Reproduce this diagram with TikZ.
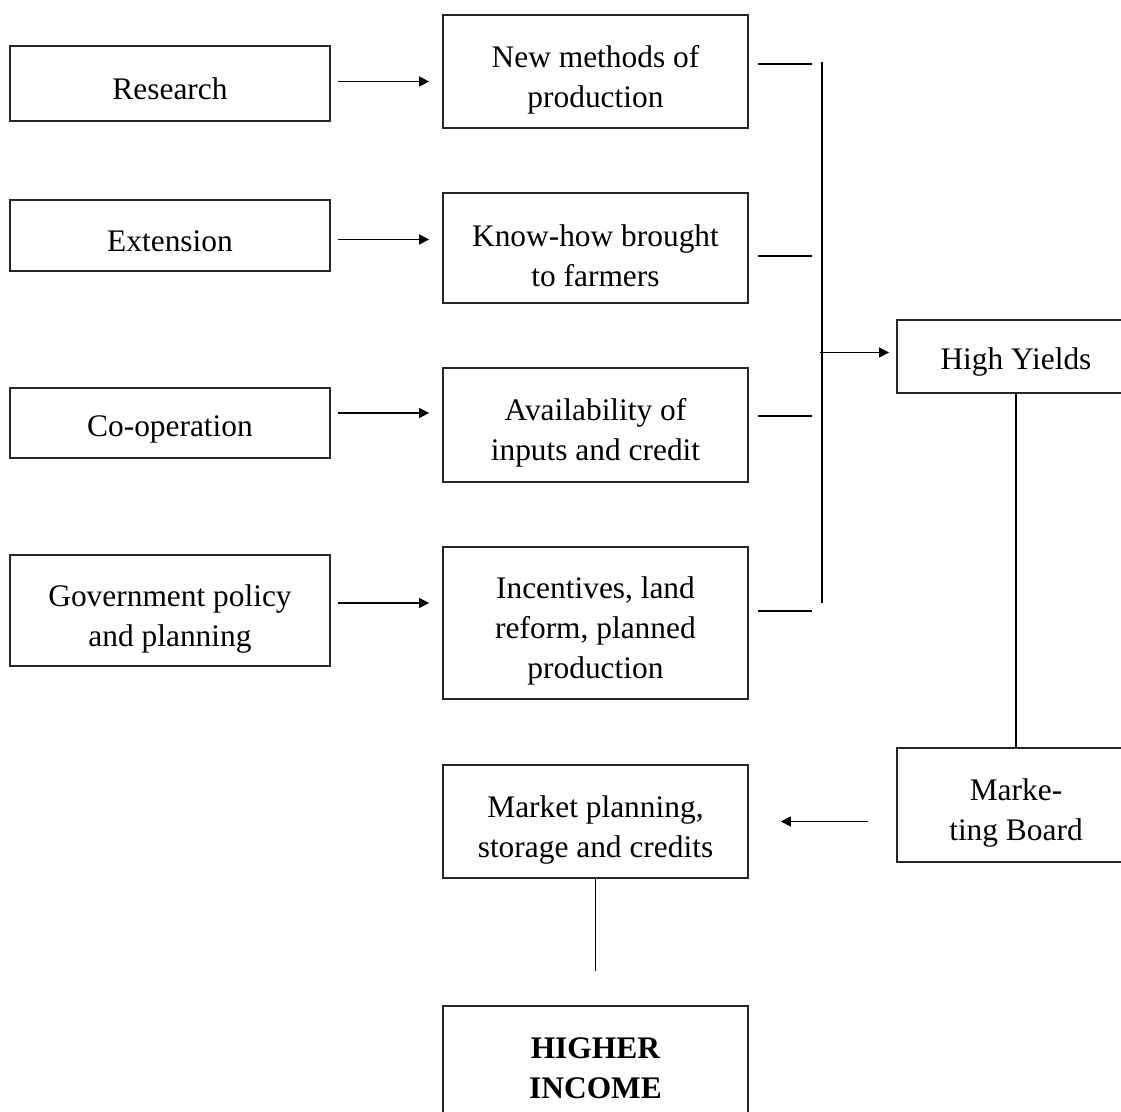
\documentclass[tikz,border=0pt]{standalone}
\usepackage{fontspec}
\setmainfont{Liberation Serif}
\usepackage{tikz}
\usetikzlibrary{arrows.meta}

\newcommand{\hd}{\rule{0pt}{19pt}}

\tikzset{
  blk/.style={draw=black!85, line width=0.9pt, rectangle, align=center, inner sep=0pt,
    font=\fontsize{15.7}{20}\selectfont, execute at begin node={\rule{0pt}{16.5pt}}},
  leftblk/.style={blk, minimum width=160pt},
  midblk/.style={blk, minimum width=152.5pt},
  rightblk/.style={blk, minimum width=119pt},
  arr/.style={-{Triangle[length=5pt,width=5pt]}, line width=0.75pt},
  link/.style={line width=0.9pt}
}

\begin{document}
\begin{tikzpicture}[x=0.5pt,y=-0.5pt]
    \useasboundingbox (0,0) rectangle (1121,1112);
    % left column
    \node[leftblk, minimum height=37.5pt] (res) at (170, 83.5) {Research};
    \node[leftblk, minimum height=35.5pt] (ext) at (170, 235.5) {Extension};
    \node[leftblk, minimum height=35pt] (coop) at (170, 423) {Co-operation};
    \node[leftblk, minimum height=55.5pt] (gov) at (170, 610.5) {\hd Government policy\\and planning};
    % middle column
    \node[midblk, minimum height=56.5pt] (meth) at (595.5, 71.5) {\hd New methods of\\production};
    \node[midblk, minimum height=55pt] (know) at (595.5, 248) {\hd Know-how brought\\to farmers};
    \node[midblk, minimum height=57pt] (avail) at (595.5, 425) {\hd Availability of\\inputs and credit};
    \node[midblk, minimum height=76pt] (incent) at (595.5, 623) {\hd Incentives, land\\reform, planned\\production};
    \node[midblk, minimum height=56.5pt] (mkt) at (595.5, 821.5) {\hd Market planning,\\storage and credits};
    \node[midblk, minimum height=62pt] (inc) at (595.5, 1068) {\textbf{HIGHER}\\\textbf{INCOME}};
    % right column
    \node[rightblk, minimum height=36.5pt] (hy) at (1016, 356.5) {High Yields};
    \node[rightblk, minimum height=57pt] (mb) at (1016, 805) {\hd Marke-\\ting Board};
    \coordinate (bustop) at (822, 62);
    \coordinate (busbot) at (822, 603);

    \draw[arr, shorten <=3.5pt, shorten >=6.5pt] ([yshift=1pt]res.east) -- ([yshift=1pt]res.east -| meth.west);
    \draw[arr, shorten <=3.5pt, shorten >=6.5pt] ([yshift=-2pt]ext.east) -- ([yshift=-2pt]ext.east -| know.west);
    \draw[arr, shorten <=3.5pt, shorten >=6.5pt] ([yshift=5pt]coop.east) -- ([yshift=5pt]coop.east -| avail.west);
    \draw[arr, shorten <=3.5pt, shorten >=6.5pt] ([yshift=3.75pt]gov.east) -- ([yshift=3.75pt]gov.east -| incent.west);

    \draw[link, shorten <=4.5pt, shorten >=5pt] ([yshift=3.75pt]meth.east) -- ([yshift=3.75pt]meth.east -| bustop);
    \draw[link, shorten <=4.5pt, shorten >=5pt] ([yshift=-4pt]know.east) -- ([yshift=-4pt]know.east -| bustop);
    \draw[link, shorten <=4.5pt, shorten >=5pt] ([yshift=4.5pt]avail.east) -- ([yshift=4.5pt]avail.east -| bustop);
    \draw[link, shorten <=4.5pt, shorten >=5pt] ([yshift=6pt]incent.east) -- ([yshift=6pt]incent.east -| bustop);
    \draw[link] (bustop) -- (busbot);

    \draw[arr, shorten <=-1pt, shorten >=3.5pt] ([yshift=2pt]hy.west -| bustop) -- ([yshift=2pt]hy.west);
    \draw[link] (hy.south) -- (mb.north);
    \draw[arr, shorten <=14pt, shorten >=16pt] (mb.west |- mkt) -- (mkt.east);
    \draw[link, shorten >=17pt] (mkt.south) -- (inc.north);
\end{tikzpicture}
\end{document}
